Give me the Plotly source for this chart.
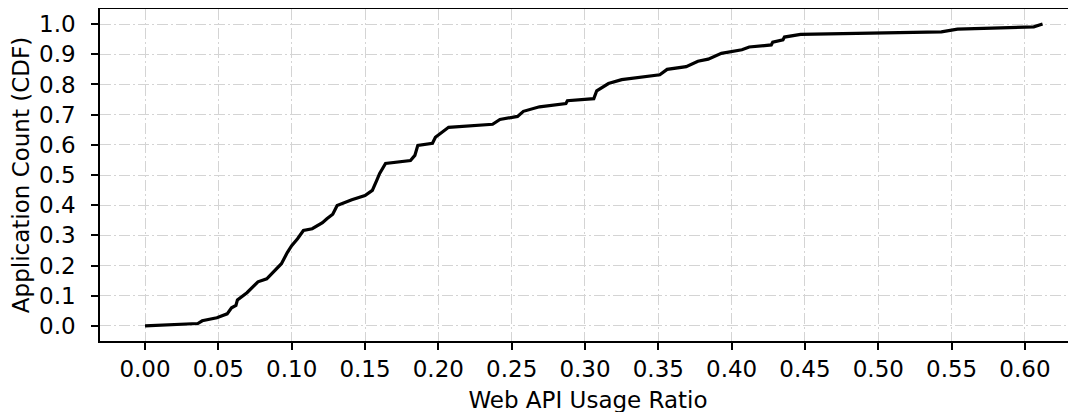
import plotly.graph_objects as go

# CDF of web API usage ratio
usage_ratio = [0.0, 0.036, 0.039, 0.049, 0.056, 0.059, 0.062, 0.063, 0.0695, 0.077,
               0.083, 0.087, 0.093, 0.097, 0.100, 0.104, 0.108, 0.114, 0.121, 0.124,
               0.128, 0.131, 0.141, 0.150, 0.155, 0.158, 0.160, 0.164, 0.181, 0.184,
               0.186, 0.196, 0.198, 0.207, 0.237, 0.242, 0.254, 0.258, 0.269, 0.287,
               0.288, 0.306, 0.308, 0.316, 0.325, 0.351, 0.356, 0.369, 0.377, 0.384,
               0.393, 0.407, 0.412, 0.427, 0.428, 0.435, 0.436, 0.447, 0.543, 0.554,
               0.606, 0.612]
cdf_values = [0.0, 0.008, 0.017, 0.027, 0.040, 0.060, 0.068, 0.086, 0.110, 0.146,
              0.156, 0.176, 0.206, 0.243, 0.266, 0.289, 0.316, 0.322, 0.342, 0.355,
              0.370, 0.399, 0.418, 0.432, 0.449, 0.482, 0.505, 0.538, 0.548, 0.565,
              0.598, 0.605, 0.625, 0.658, 0.668, 0.684, 0.694, 0.711, 0.726, 0.737,
              0.746, 0.753, 0.779, 0.803, 0.816, 0.832, 0.850, 0.859, 0.877, 0.884,
              0.903, 0.915, 0.924, 0.931, 0.940, 0.948, 0.957, 0.966, 0.974, 0.983,
              0.991, 1.0]

x_ticks = [0.00, 0.05, 0.10, 0.15, 0.20, 0.25, 0.30, 0.35, 0.40, 0.45, 0.50, 0.55, 0.60]
x_tick_labels = ["0.00", "0.05", "0.10", "0.15", "0.20", "0.25", "0.30",
                 "0.35", "0.40", "0.45", "0.50", "0.55", "0.60"]
y_ticks = [0.0, 0.1, 0.2, 0.3, 0.4, 0.5, 0.6, 0.7, 0.8, 0.9, 1.0]
y_tick_labels = ["0.0", "0.1", "0.2", "0.3", "0.4", "0.5", "0.6", "0.7", "0.8", "0.9", "1.0"]

x_title = "Web API Usage Ratio"
y_title = "Application Count (CDF)"

fig = go.Figure()
fig.add_trace(go.Scatter(
    x=usage_ratio, y=cdf_values, mode="lines",
    line=dict(color="black", width=3.2),
    showlegend=False,
))

font_family = "DejaVu Sans"
grid_dash = "11px,3px,2px,3px"

fig.update_layout(
    width=1076, height=412,
    margin=dict(l=92, r=8, t=1, b=79, autoexpand=False),
    paper_bgcolor="white", plot_bgcolor="white",
    font=dict(family=font_family, size=23, color="black"),
)
fig.update_xaxes(
    range=[-0.0307, 0.6348],
    tickmode="array", tickvals=x_ticks, ticktext=x_tick_labels,
    showline=True, linecolor="black", linewidth=1.5, mirror=True,
    ticks="outside", ticklen=7, tickwidth=1.5, tickcolor="black",
    showgrid=True, gridcolor="#d4d4d4", gridwidth=1.3, griddash=grid_dash,
    zeroline=False, automargin=False,
    title=dict(text=x_title, font=dict(size=23), standoff=11),
    tickfont=dict(size=23),
)
fig.update_yaxes(
    range=[-0.05, 1.05],
    tickmode="array", tickvals=y_ticks, ticktext=y_tick_labels,
    showline=True, linecolor="black", linewidth=1.5, mirror=False,
    ticks="outside", ticklen=7, tickwidth=1.5, tickcolor="black",
    showgrid=True, gridcolor="#d4d4d4", gridwidth=1.3, griddash=grid_dash,
    zeroline=False, automargin=False, ticklabelstandoff=11,
    title=dict(text=y_title, font=dict(size=23), standoff=7),
    tickfont=dict(size=23),
)

fig.write_html("out.html")
